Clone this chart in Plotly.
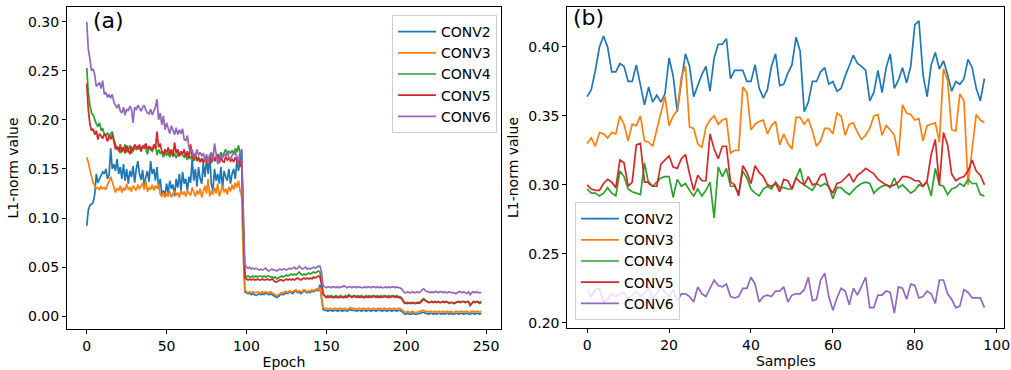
import plotly.graph_objects as go

# ---------------- Panel (a): L1-norm vs epoch ----------------
names = ["CONV2", "CONV3", "CONV4", "CONV5", "CONV6"]
colors = ["#1f77b4", "#ff7f0e", "#2ca02c", "#d62728", "#9467bd"]

a_conv2 = [
    0.092, 0.108, 0.113, 0.114, 0.116, 0.124, 0.145, 0.136, 0.140, 0.143,
    0.147, 0.145, 0.150, 0.140, 0.144, 0.171, 0.150, 0.155, 0.148, 0.160,
    0.145, 0.152, 0.140, 0.155, 0.138, 0.150, 0.135, 0.148, 0.142, 0.153,
    0.136, 0.150, 0.158, 0.145, 0.139, 0.149, 0.132, 0.142, 0.148, 0.137,
    0.158, 0.145, 0.150, 0.138, 0.152, 0.130, 0.140, 0.124, 0.128, 0.123,
    0.135, 0.125, 0.138, 0.130, 0.134, 0.122, 0.140, 0.131, 0.145, 0.128,
    0.147, 0.135, 0.140, 0.128, 0.142, 0.136, 0.160, 0.138, 0.150, 0.132,
    0.152, 0.140, 0.135, 0.156, 0.142, 0.160, 0.145, 0.165, 0.135, 0.128,
    0.150, 0.138, 0.145, 0.135, 0.152, 0.130, 0.148, 0.142, 0.138, 0.150,
    0.135, 0.145, 0.150, 0.140, 0.158, 0.148, 0.160, 0.170,
    0.080,
    0.025, 0.024, 0.023, 0.024, 0.022, 0.023, 0.022, 0.021, 0.022, 0.023,
    0.022, 0.023, 0.022, 0.024, 0.023, 0.022, 0.023, 0.022, 0.021, 0.020,
    0.019, 0.020, 0.022, 0.023, 0.022, 0.023, 0.024, 0.023, 0.025, 0.024,
    0.023, 0.025, 0.026, 0.024, 0.025, 0.023, 0.024, 0.026, 0.025, 0.024,
    0.025, 0.024, 0.026, 0.025, 0.026, 0.027, 0.026, 0.032, 0.018,
    0.007, 0.006, 0.006, 0.005, 0.006, 0.006, 0.005, 0.006, 0.006, 0.005,
    0.006, 0.006, 0.005, 0.006, 0.006, 0.005, 0.006, 0.007, 0.006, 0.006,
    0.006, 0.005, 0.006, 0.006, 0.005, 0.006, 0.006, 0.005, 0.006, 0.006,
    0.005, 0.006, 0.006, 0.005, 0.006, 0.006, 0.006, 0.005, 0.006, 0.006,
    0.005, 0.006, 0.006, 0.005, 0.006, 0.006, 0.005, 0.006, 0.006, 0.005, 0.004,
    0.002, 0.002, 0.003, 0.002, 0.002, 0.003, 0.002, 0.002, 0.002, 0.003,
    0.003, 0.004, 0.004, 0.003, 0.003, 0.002, 0.003, 0.003, 0.002, 0.003,
    0.002, 0.003, 0.003, 0.002, 0.003, 0.002, 0.003, 0.003, 0.002, 0.003,
    0.002, 0.002, 0.003, 0.003, 0.002, 0.003, 0.003, 0.002, 0.003, 0.003,
    0.002, 0.002, 0.003, 0.003, 0.002, 0.003, 0.003, 0.002, 0.003,
]

a_conv3 = [
    0.162, 0.157, 0.149, 0.141, 0.136, 0.133, 0.130, 0.131, 0.129, 0.132,
    0.130, 0.131, 0.129, 0.134, 0.137, 0.142, 0.137, 0.131, 0.126, 0.130,
    0.128, 0.133, 0.126, 0.131, 0.128, 0.135, 0.129, 0.131, 0.127, 0.133,
    0.130, 0.128, 0.134, 0.130, 0.132, 0.136, 0.129, 0.138, 0.127, 0.131,
    0.129, 0.134, 0.128, 0.133, 0.130, 0.135, 0.124, 0.122, 0.126, 0.121,
    0.125, 0.122, 0.127, 0.121, 0.125, 0.128, 0.123, 0.126, 0.121, 0.128,
    0.124, 0.127, 0.122, 0.128, 0.125, 0.123, 0.131, 0.126, 0.122, 0.128,
    0.124, 0.130, 0.121, 0.127, 0.133, 0.125, 0.140, 0.122, 0.128, 0.124,
    0.131, 0.125, 0.135, 0.122, 0.129, 0.133, 0.126, 0.130, 0.124, 0.132,
    0.127, 0.134, 0.129, 0.136, 0.131, 0.138, 0.128, 0.122,
    0.060,
    0.027, 0.025, 0.024, 0.025, 0.024, 0.025, 0.024, 0.024, 0.025, 0.024,
    0.024, 0.025, 0.024, 0.025, 0.024, 0.024, 0.025, 0.024, 0.023, 0.022,
    0.021, 0.022, 0.023, 0.024, 0.024, 0.025, 0.025, 0.024, 0.026, 0.025,
    0.025, 0.026, 0.027, 0.025, 0.026, 0.025, 0.025, 0.027, 0.026, 0.025,
    0.026, 0.025, 0.027, 0.026, 0.027, 0.028, 0.027, 0.029, 0.020,
    0.009, 0.008, 0.008, 0.007, 0.008, 0.008, 0.007, 0.008, 0.008, 0.007,
    0.008, 0.008, 0.007, 0.008, 0.008, 0.007, 0.008, 0.009, 0.008, 0.008,
    0.008, 0.007, 0.008, 0.008, 0.007, 0.008, 0.008, 0.007, 0.008, 0.008,
    0.007, 0.008, 0.008, 0.007, 0.008, 0.008, 0.008, 0.007, 0.008, 0.008,
    0.007, 0.008, 0.008, 0.007, 0.008, 0.008, 0.007, 0.008, 0.008, 0.007, 0.006,
    0.004, 0.004, 0.005, 0.004, 0.004, 0.005, 0.004, 0.004, 0.004, 0.005,
    0.005, 0.006, 0.006, 0.005, 0.005, 0.004, 0.005, 0.005, 0.004, 0.005,
    0.004, 0.005, 0.005, 0.004, 0.005, 0.004, 0.005, 0.005, 0.004, 0.005,
    0.004, 0.004, 0.005, 0.005, 0.004, 0.005, 0.005, 0.004, 0.005, 0.005,
    0.004, 0.004, 0.005, 0.005, 0.004, 0.005, 0.005, 0.004, 0.005,
]

a_conv4 = [
    0.253, 0.228, 0.215, 0.207, 0.205, 0.200, 0.196, 0.193, 0.197, 0.190,
    0.191, 0.186, 0.184, 0.187, 0.183, 0.186, 0.188, 0.180, 0.176, 0.170,
    0.172, 0.166, 0.172, 0.169, 0.175, 0.167, 0.170, 0.174, 0.166, 0.170,
    0.172, 0.170, 0.173, 0.171, 0.168, 0.172, 0.174, 0.170, 0.165, 0.172,
    0.170, 0.168, 0.172, 0.175, 0.164, 0.170, 0.166, 0.168, 0.162, 0.166,
    0.164, 0.166, 0.162, 0.167, 0.163, 0.165, 0.161, 0.166, 0.163, 0.167,
    0.164, 0.162, 0.166, 0.159, 0.165, 0.160, 0.163, 0.158, 0.162, 0.160,
    0.162, 0.158, 0.161, 0.157, 0.160, 0.163, 0.158, 0.162, 0.156, 0.161,
    0.159, 0.163, 0.165, 0.161, 0.167, 0.163, 0.166, 0.170, 0.164, 0.168,
    0.166, 0.169, 0.165, 0.171, 0.167, 0.174, 0.166, 0.168,
    0.090,
    0.042, 0.040, 0.041, 0.040, 0.040, 0.041, 0.040, 0.041, 0.040, 0.041,
    0.041, 0.040, 0.041, 0.040, 0.041, 0.041, 0.040, 0.040, 0.039, 0.040,
    0.038, 0.039, 0.040, 0.041, 0.040, 0.041, 0.042, 0.041, 0.042, 0.043,
    0.042, 0.043, 0.042, 0.044, 0.045, 0.043, 0.042, 0.043, 0.042, 0.043,
    0.044, 0.043, 0.044, 0.045, 0.044, 0.045, 0.046, 0.045, 0.035,
    0.023, 0.021, 0.020, 0.021, 0.020, 0.021, 0.020, 0.020, 0.021, 0.020,
    0.020, 0.021, 0.020, 0.020, 0.021, 0.020, 0.022, 0.021, 0.020, 0.021,
    0.021, 0.020, 0.021, 0.020, 0.021, 0.020, 0.020, 0.021, 0.020, 0.021,
    0.020, 0.021, 0.021, 0.020, 0.021, 0.020, 0.021, 0.020, 0.021, 0.021,
    0.020, 0.021, 0.020, 0.021, 0.021, 0.020, 0.021, 0.020, 0.020, 0.019, 0.016,
    0.014, 0.014, 0.013, 0.014, 0.014, 0.013, 0.014, 0.013, 0.014, 0.014,
    0.015, 0.017, 0.018, 0.016, 0.015, 0.014, 0.014, 0.015, 0.014, 0.015,
    0.014, 0.015, 0.014, 0.014, 0.015, 0.014, 0.015, 0.014, 0.013, 0.014,
    0.014, 0.013, 0.014, 0.015, 0.015, 0.014, 0.015, 0.015, 0.014, 0.015,
    0.015, 0.011, 0.013, 0.015, 0.014, 0.015, 0.014, 0.013, 0.014,
]

a_conv5 = [
    0.237, 0.210, 0.196, 0.189, 0.191, 0.185, 0.189, 0.180, 0.186, 0.184,
    0.181, 0.186, 0.183, 0.178, 0.184, 0.180, 0.185, 0.178, 0.170, 0.173,
    0.168, 0.175, 0.167, 0.172, 0.166, 0.174, 0.170, 0.165, 0.173, 0.168,
    0.175, 0.172, 0.170, 0.175, 0.168, 0.174, 0.171, 0.176, 0.170, 0.173,
    0.172, 0.169, 0.175, 0.171, 0.188, 0.172, 0.176, 0.168, 0.165, 0.170,
    0.166, 0.172, 0.165, 0.170, 0.163, 0.177, 0.166, 0.170, 0.163, 0.168,
    0.165, 0.170, 0.162, 0.168, 0.161, 0.175, 0.163, 0.160, 0.166, 0.158,
    0.161, 0.157, 0.160, 0.156, 0.162, 0.158, 0.154, 0.163, 0.157, 0.166,
    0.158, 0.160, 0.165, 0.156, 0.162, 0.158, 0.157, 0.163, 0.159, 0.161,
    0.158, 0.160, 0.157, 0.162, 0.158, 0.160, 0.152, 0.159,
    0.085,
    0.039, 0.038, 0.037, 0.038, 0.037, 0.038, 0.037, 0.037, 0.038, 0.037,
    0.037, 0.038, 0.037, 0.037, 0.038, 0.037, 0.037, 0.038, 0.036, 0.035,
    0.035, 0.036, 0.037, 0.037, 0.036, 0.037, 0.038, 0.037, 0.038, 0.037,
    0.038, 0.037, 0.038, 0.039, 0.038, 0.037, 0.038, 0.039, 0.038, 0.039,
    0.038, 0.039, 0.038, 0.040, 0.039, 0.040, 0.041, 0.040, 0.033,
    0.022, 0.020, 0.019, 0.020, 0.019, 0.020, 0.019, 0.019, 0.020, 0.019,
    0.019, 0.020, 0.019, 0.019, 0.020, 0.019, 0.021, 0.020, 0.019, 0.020,
    0.020, 0.019, 0.020, 0.019, 0.020, 0.019, 0.019, 0.020, 0.019, 0.020,
    0.019, 0.020, 0.020, 0.019, 0.020, 0.019, 0.020, 0.019, 0.020, 0.020,
    0.019, 0.020, 0.019, 0.020, 0.020, 0.019, 0.020, 0.019, 0.019, 0.018, 0.015,
    0.013, 0.013, 0.014, 0.013, 0.013, 0.014, 0.013, 0.013, 0.014, 0.013,
    0.014, 0.016, 0.017, 0.016, 0.015, 0.014, 0.014, 0.015, 0.014, 0.015,
    0.014, 0.015, 0.014, 0.014, 0.015, 0.014, 0.015, 0.014, 0.014, 0.014,
    0.014, 0.013, 0.014, 0.014, 0.015, 0.014, 0.015, 0.015, 0.014, 0.015,
    0.015, 0.011, 0.013, 0.015, 0.014, 0.015, 0.015, 0.014, 0.015,
]

a_conv6 = [
    0.300, 0.272, 0.262, 0.250, 0.252, 0.246, 0.234, 0.236, 0.238, 0.232,
    0.240, 0.226, 0.228, 0.223, 0.226, 0.222, 0.226, 0.218, 0.214, 0.212,
    0.216, 0.209, 0.207, 0.213, 0.205, 0.211, 0.209, 0.214, 0.211, 0.197,
    0.213, 0.210, 0.215, 0.212, 0.209, 0.213, 0.215, 0.210, 0.207, 0.206,
    0.211, 0.205, 0.209, 0.213, 0.221, 0.200, 0.207, 0.195, 0.204, 0.190,
    0.197, 0.190, 0.186, 0.194, 0.189, 0.185, 0.192, 0.185, 0.190, 0.186,
    0.191, 0.180, 0.179, 0.184, 0.172, 0.167, 0.170, 0.162, 0.163, 0.170,
    0.164, 0.167, 0.163, 0.166, 0.159, 0.165, 0.155, 0.164, 0.167, 0.158,
    0.176, 0.164, 0.155, 0.160, 0.163, 0.161, 0.165, 0.164, 0.168, 0.162,
    0.160, 0.164, 0.165, 0.167, 0.163, 0.158, 0.168, 0.166,
    0.110,
    0.053, 0.050, 0.049, 0.050, 0.048, 0.049, 0.048, 0.049, 0.048, 0.047,
    0.048, 0.047, 0.048, 0.049, 0.047, 0.046, 0.047, 0.048, 0.047, 0.047,
    0.046, 0.047, 0.048, 0.047, 0.048, 0.048, 0.047, 0.048, 0.049, 0.048,
    0.049, 0.050, 0.048, 0.049, 0.051, 0.049, 0.048, 0.049, 0.050, 0.048,
    0.049, 0.048, 0.049, 0.050, 0.049, 0.050, 0.051, 0.051, 0.045,
    0.031, 0.030, 0.029, 0.030, 0.030, 0.029, 0.030, 0.030, 0.029, 0.030,
    0.029, 0.030, 0.030, 0.031, 0.030, 0.029, 0.030, 0.030, 0.029, 0.030,
    0.030, 0.029, 0.030, 0.030, 0.029, 0.029, 0.030, 0.029, 0.030, 0.030,
    0.029, 0.030, 0.030, 0.029, 0.030, 0.029, 0.030, 0.029, 0.029, 0.030,
    0.029, 0.030, 0.029, 0.030, 0.030, 0.029, 0.030, 0.029, 0.029, 0.028, 0.026,
    0.024, 0.024, 0.025, 0.024, 0.024, 0.025, 0.024, 0.024, 0.025, 0.024,
    0.025, 0.027, 0.028, 0.026, 0.025, 0.025, 0.024, 0.025, 0.024, 0.025,
    0.025, 0.024, 0.025, 0.025, 0.024, 0.025, 0.024, 0.024, 0.025, 0.024,
    0.024, 0.024, 0.023, 0.024, 0.025, 0.025, 0.024, 0.025, 0.024, 0.023,
    0.025, 0.022, 0.024, 0.025, 0.024, 0.025, 0.024, 0.024, 0.024,
]

# ---------------- Panel (b): L1-norm vs samples ----------------
b_conv2 = [
    0.364, 0.369, 0.383, 0.400, 0.408, 0.400, 0.382, 0.382, 0.388, 0.386,
    0.375, 0.375, 0.387, 0.373, 0.358, 0.371, 0.360, 0.365, 0.360, 0.366,
    0.392, 0.379, 0.353, 0.375, 0.395, 0.386, 0.364, 0.372, 0.380, 0.386,
    0.368, 0.392, 0.402, 0.402, 0.406, 0.377, 0.383, 0.383, 0.383, 0.375,
    0.375, 0.387, 0.370, 0.363, 0.369, 0.386, 0.395, 0.372, 0.373, 0.381,
    0.387, 0.407, 0.397, 0.353, 0.360, 0.375, 0.375, 0.382, 0.385, 0.373,
    0.375, 0.368, 0.370, 0.379, 0.386, 0.394, 0.388, 0.386, 0.383, 0.361,
    0.367, 0.383, 0.367, 0.385, 0.395, 0.370, 0.376, 0.385, 0.374, 0.386,
    0.416, 0.419, 0.380, 0.364, 0.387, 0.396, 0.384, 0.390, 0.380, 0.368,
    0.375, 0.373, 0.377, 0.391, 0.385, 0.370, 0.361, 0.377,
]
b_conv3 = [
    0.330, 0.334, 0.328, 0.338, 0.337, 0.334, 0.338, 0.337, 0.350, 0.344,
    0.332, 0.344, 0.343, 0.350, 0.332, 0.331, 0.328, 0.340, 0.352, 0.364,
    0.343, 0.350, 0.354, 0.378, 0.386, 0.342, 0.341, 0.330, 0.327, 0.342,
    0.347, 0.350, 0.344, 0.347, 0.348, 0.323, 0.325, 0.325, 0.371, 0.367,
    0.340, 0.344, 0.346, 0.347, 0.337, 0.343, 0.346, 0.329, 0.337, 0.330,
    0.326, 0.349, 0.349, 0.344, 0.348, 0.339, 0.328, 0.332, 0.341, 0.341,
    0.337, 0.352, 0.350, 0.336, 0.344, 0.345, 0.338, 0.333, 0.336, 0.341,
    0.350, 0.351, 0.336, 0.343, 0.340, 0.336, 0.321, 0.358, 0.352, 0.351,
    0.347, 0.348, 0.332, 0.343, 0.344, 0.345, 0.331, 0.384, 0.376, 0.340,
    0.339, 0.366, 0.361, 0.300, 0.326, 0.351, 0.347, 0.345,
]
b_conv4 = [
    0.297, 0.294, 0.294, 0.292, 0.294, 0.298, 0.294, 0.292, 0.310, 0.306,
    0.297, 0.295, 0.294, 0.293, 0.316, 0.301, 0.299, 0.302, 0.305, 0.306,
    0.306, 0.291, 0.304, 0.299, 0.301, 0.296, 0.292, 0.297, 0.292, 0.296,
    0.302, 0.276, 0.313, 0.306, 0.312, 0.299, 0.299, 0.294, 0.310, 0.305,
    0.297, 0.294, 0.292, 0.297, 0.299, 0.297, 0.302, 0.298, 0.298, 0.297,
    0.297, 0.305, 0.312, 0.300, 0.298, 0.296, 0.301, 0.299, 0.301, 0.299,
    0.290, 0.298, 0.298, 0.295, 0.293, 0.296, 0.299, 0.301, 0.302, 0.301,
    0.294, 0.297, 0.299, 0.300, 0.298, 0.305, 0.298, 0.300, 0.297, 0.294,
    0.296, 0.300, 0.299, 0.302, 0.292, 0.312, 0.300, 0.299, 0.293, 0.297,
    0.298, 0.301, 0.299, 0.304, 0.301, 0.301, 0.293, 0.292,
]
b_conv5 = [
    0.300, 0.297, 0.296, 0.296, 0.301, 0.304, 0.302, 0.298, 0.318, 0.316,
    0.299, 0.302, 0.329, 0.330, 0.302, 0.302, 0.299, 0.299, 0.315, 0.318,
    0.321, 0.313, 0.312, 0.319, 0.322, 0.308, 0.296, 0.307, 0.303, 0.303,
    0.337, 0.326, 0.319, 0.328, 0.328, 0.302, 0.300, 0.292, 0.314, 0.309,
    0.301, 0.314, 0.309, 0.306, 0.300, 0.299, 0.301, 0.295, 0.304, 0.303,
    0.297, 0.305, 0.302, 0.300, 0.306, 0.300, 0.301, 0.307, 0.308, 0.298,
    0.294, 0.301, 0.302, 0.305, 0.308, 0.302, 0.307, 0.309, 0.312, 0.310,
    0.308, 0.304, 0.302, 0.300, 0.299, 0.300, 0.302, 0.306, 0.306, 0.305,
    0.303, 0.303, 0.299, 0.303, 0.322, 0.333, 0.300, 0.338, 0.329, 0.308,
    0.303, 0.305, 0.306, 0.310, 0.318, 0.310, 0.307, 0.300,
]
b_conv6 = [
    0.224, 0.219, 0.224, 0.225, 0.215, 0.217, 0.221, 0.219, 0.221, 0.222,
    0.217, 0.220, 0.223, 0.219, 0.222, 0.225, 0.218, 0.221, 0.226, 0.222,
    0.219, 0.224, 0.216, 0.221, 0.221, 0.219, 0.215, 0.226, 0.221, 0.219,
    0.225, 0.231, 0.227, 0.226, 0.228, 0.219, 0.218, 0.219, 0.225, 0.225,
    0.233, 0.228, 0.215, 0.219, 0.220, 0.219, 0.223, 0.223, 0.226, 0.215,
    0.220, 0.221, 0.221, 0.224, 0.233, 0.216, 0.217, 0.231, 0.236, 0.219,
    0.209, 0.218, 0.225, 0.223, 0.213, 0.225, 0.220, 0.227, 0.233, 0.211,
    0.211, 0.220, 0.220, 0.223, 0.222, 0.207, 0.226, 0.225, 0.217, 0.228,
    0.227, 0.218, 0.219, 0.223, 0.221, 0.214, 0.231, 0.231, 0.221, 0.217,
    0.211, 0.212, 0.224, 0.222, 0.218, 0.218, 0.218, 0.211,
]

a_series = [a_conv2, a_conv3, a_conv4, a_conv5, a_conv6]
b_series = [b_conv2, b_conv3, b_conv4, b_conv5, b_conv6]

a_xticks = [0, 50, 100, 150, 200, 250]
a_yticks = [0.00, 0.05, 0.10, 0.15, 0.20, 0.25, 0.30]
b_xticks = [0, 20, 40, 60, 80, 100]
b_yticks = [0.20, 0.25, 0.30, 0.35, 0.40]

FONT = "DejaVu Sans"
W, H = 1011, 370

fig = go.Figure()
for name, col, ys in zip(names, colors, a_series):
    fig.add_trace(go.Scatter(x=list(range(len(ys))), y=ys, mode="lines", name=name,
                             line=dict(color=col, width=1.7), xaxis="x", yaxis="y",
                             legend="legend"))
for name, col, ys in zip(names, colors, b_series):
    fig.add_trace(go.Scatter(x=list(range(len(ys))), y=ys, mode="lines", name=name,
                             line=dict(color=col, width=1.7), xaxis="x2", yaxis="y2",
                             legend="legend2"))

def px_x(p):
    return p / W

def px_y(p):
    return 1 - p / H

axis_common = dict(showline=True, mirror=True, linecolor="black", linewidth=1,
                   ticks="outside", ticklen=4, tickcolor="black", tickwidth=1,
                   showgrid=False, zeroline=False, automargin=False,
                   tickfont=dict(family=FONT, size=14, color="black"))

legend_common = dict(bgcolor="rgba(255,255,255,0.8)", bordercolor="#cccccc", borderwidth=1,
                     itemwidth=38, font=dict(family=FONT, size=14, color="black"))

fig.update_layout(
    width=W, height=H,
    margin=dict(l=0, r=0, t=0, b=0),
    paper_bgcolor="white", plot_bgcolor="white",
    font=dict(family=FONT, size=14, color="black"),
    xaxis=dict(domain=[px_x(67), px_x(501)], range=[-12.35, 259.35],
               tickvals=a_xticks, anchor="y",
               title=dict(text="Epoch", standoff=4, font=dict(family=FONT, size=14)),
               **axis_common),
    yaxis=dict(domain=[px_y(329), px_y(7)], range=[-0.013, 0.315],
               tickvals=a_yticks, tickformat=".2f", anchor="x",
               title=dict(text="L1-norm value", standoff=6, font=dict(family=FONT, size=14)),
               **axis_common),
    xaxis2=dict(domain=[px_x(567.3), px_x(1004.3)], range=[-4.85, 101.85],
                tickvals=b_xticks, anchor="y2",
                title=dict(text="Samples", standoff=4, font=dict(family=FONT, size=14)),
                **axis_common),
    yaxis2=dict(domain=[px_y(328), px_y(7)], range=[0.1962, 0.4290],
                tickvals=b_yticks, tickformat=".2f", anchor="x2",
                title=dict(text="L1-norm value", standoff=6, font=dict(family=FONT, size=14)),
                **axis_common),
    legend=dict(x=px_x(392), y=px_y(15), xanchor="left", yanchor="top", **legend_common),
    legend2=dict(x=px_x(575), y=px_y(320), xanchor="left", yanchor="bottom", **legend_common),
    annotations=[
        dict(text="(a)", x=px_x(91), y=px_y(21), xref="paper", yref="paper",
             xanchor="left", yanchor="middle", showarrow=False,
             font=dict(family=FONT, size=22, color="black")),
        dict(text="(b)", x=px_x(571), y=px_y(18), xref="paper", yref="paper",
             xanchor="left", yanchor="middle", showarrow=False,
             font=dict(family=FONT, size=22, color="black")),
    ],
)

fig.write_html("out.html",
               config={"displayModeBar": False},
               post_script="document.body.style.margin='0px';document.body.style.overflow='hidden';")
